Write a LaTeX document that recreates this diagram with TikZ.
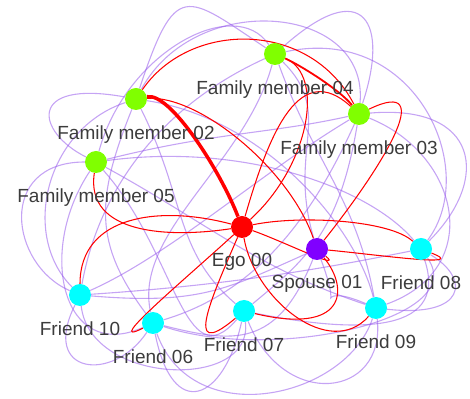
\documentclass[tikz,border=0pt]{standalone}
\usepackage{fontspec}
\setmainfont{Liberation Sans}
\usetikzlibrary{positioning, backgrounds}

\definecolor{famgreen}{RGB}{128,255,0}
\definecolor{friendcyan}{RGB}{0,255,255}
\definecolor{spouseviolet}{RGB}{128,0,255}
\definecolor{tieviolet}{RGB}{150,90,235}
\definecolor{taggray}{RGB}{60,60,60}

\begin{document}
\begin{tikzpicture}[
    x=1pt, y=1pt,
    person/.style={circle, minimum size=22pt, inner sep=0pt},
    tag/.style={font=\fontsize{19}{22}\selectfont, text=taggray},
    tie/.style={draw=tieviolet, draw opacity=0.55, line width=1.1pt},
    bond/.style={draw=red, line width=1.05pt}
]
\useasboundingbox (0,0) rectangle (470,398);

% People, placed explicitly
\node[person, fill=red] (ego) at (242,171) {};
\node[tag, below=12pt of ego] {Ego 00};
\node[person, fill=spouseviolet] (sp) at (317,149) {};
\node[tag, below=12pt of sp] {Spouse 01};
\node[person, fill=famgreen] (fm02) at (136,299) {};
\node[tag, below=12pt of fm02] {Family member 02};
\node[person, fill=famgreen] (fm03) at (359,284) {};
\node[tag, below=12pt of fm03] {Family member 03};
\node[person, fill=famgreen] (fm04) at (275,344) {};
\node[tag, below=12pt of fm04] {Family member 04};
\node[person, fill=famgreen] (fm05) at (96,236) {};
\node[tag, below=12pt of fm05] {Family member 05};
\node[person, fill=friendcyan] (f06) at (153,75) {};
\node[tag, below=12pt of f06] {Friend 06};
\node[person, fill=friendcyan] (f07) at (244,87) {};
\node[tag, below=12pt of f07] {Friend 07};
\node[person, fill=friendcyan] (f08) at (421,149) {};
\node[tag, below=12pt of f08] {Friend 08};
\node[person, fill=friendcyan] (f09) at (376,90) {};
\node[tag, below=12pt of f09] {Friend 09};
\node[person, fill=friendcyan] (f10) at (80,103) {};
\node[tag, below=12pt of f10] {Friend 10};

\begin{scope}[on background layer]
% Ties among the alters (violet loops)
\draw[tie] (fm02) .. controls +(40,120) and +(-90,60) .. (fm04);
\draw[tie] (fm02) .. controls +(60,110) and +(10,110) .. (fm03);
\draw[tie] (fm04) .. controls +(90,80) and +(30,90) .. (fm03);
\draw[tie] (fm05) .. controls +(30,110) and +(-40,60) .. (fm04);
\draw[tie] (fm04) .. controls +(140,30) and +(60,80) .. (f08);
\draw[tie] (fm03) .. controls +(120,10) and +(70,70) .. (f08);
\draw[tie] (fm03) .. controls +(100,-40) and +(110,40) .. (f09);
\draw[tie] (f08) .. controls +(50,-30) and +(90,-10) .. (f09);
\draw[tie] (fm02) .. controls +(-110,20) and +(-60,30) .. (fm05);
\draw[tie] (fm05) .. controls +(-100,0) and +(-70,30) .. (f10);
\draw[tie] (fm02) .. controls +(-90,-30) and +(-60,60) .. (f10);
\draw[tie] (f10) .. controls +(-40,-80) and +(-40,-60) .. (f06);
\draw[tie] (fm05) .. controls +(-60,-90) and +(-90,-40) .. (f06);
\draw[tie] (f06) .. controls +(20,-100) and +(-20,-90) .. (f07);
\draw[tie] (f07) .. controls +(40,-100) and +(10,-90) .. (f09);
\draw[tie] (f06) .. controls +(40,-110) and +(-30,-90) .. (f09);
\draw[tie] (f10) .. controls +(10,-90) and +(10,-80) .. (f07);
\draw[tie] (f10) .. controls +(150,10) and +(-100,-20) .. (f08);
\draw[tie] (fm05) .. controls +(150,20) and +(-50,60) .. (f08);
\draw[tie] (fm05) .. controls +(120,30) and +(-90,-20) .. (fm03);
\draw[tie] (fm02) .. controls +(130,-20) and +(-20,80) .. (f09);
\draw[tie] (fm04) .. controls +(-110,-50) and +(20,110) .. (f10);
\draw[tie] (fm04) .. controls +(-30,-110) and +(-20,90) .. (f06);
\draw[tie] (fm04) .. controls +(40,-110) and +(-20,110) .. (f09);
\draw[tie] (fm03) .. controls +(-100,-60) and +(90,40) .. (f10);
\draw[tie] (fm03) .. controls +(-50,-110) and +(100,30) .. (f06);
\draw[tie] (fm02) .. controls +(50,-100) and +(-70,60) .. (f07);
\draw[tie] (fm02) .. controls +(-40,-100) and +(-60,80) .. (f06);
\draw[tie] (fm05) .. controls +(110,-60) and +(-120,40) .. (f09);
\draw[tie] (fm03) .. controls +(-20,-120) and +(60,50) .. (f07);
\draw[tie] (sp) .. controls +(-90,-40) and +(120,-10) .. (f10);
\draw[tie] (sp) .. controls +(30,-80) and +(-70,30) .. (f09);
\draw[tie] (sp) .. controls +(-40,-100) and +(80,-20) .. (f06);
\draw[tie] (f06) .. controls +(120,-40) and +(50,-70) .. (f08);
\draw[tie] (f07) .. controls +(100,-20) and +(30,-90) .. (f08);
\draw[tie] (sp) .. controls +(-30,100) and +(60,-60) .. (fm04);
\draw[tie] (fm05) .. controls +(80,-90) and +(-60,-70) .. (f07);

% Ties of ego and of the family (red)
\draw[bond, line width=3.5pt] (fm02) .. controls (170,306) and (220,228) .. (ego);
\draw[bond] (fm05) .. controls (85,163) and (170,160) .. (ego);
\draw[bond] (f10) .. controls (80,183) and (160,193) .. (ego);
\draw[bond] (ego) .. controls (190,123) and (100,48) .. (f06);
\draw[bond] (ego) .. controls (215,108) and (180,33) .. (f07);
\draw[bond] (ego) .. controls (255,98) and (330,38) .. (f09);
\draw[bond] (ego) .. controls (300,183) and (390,178) .. (f08);
\draw[bond] (ego) .. controls (280,158) and (345,126) .. (sp);
\draw[bond] (ego) .. controls (310,233) and (325,323) .. (fm04);
\draw[bond] (ego) .. controls (270,268) and (300,338) .. (fm03);
\draw[bond] (sp) .. controls (380,143) and (470,130) .. (f08);
\draw[bond] (sp) .. controls (350,108) and (345,63) .. (f07);
\draw[bond] (sp) .. controls (380,228) and (440,323) .. (fm03);
\draw[bond] (fm02) .. controls (200,303) and (290,228) .. (sp);
\draw[bond] (fm02) .. controls (190,378) and (310,378) .. (fm03);
\draw[bond, line width=1.8pt] (fm04) .. controls (300,333) and (340,308) .. (fm03);
\end{scope}
\end{tikzpicture}
\end{document}
